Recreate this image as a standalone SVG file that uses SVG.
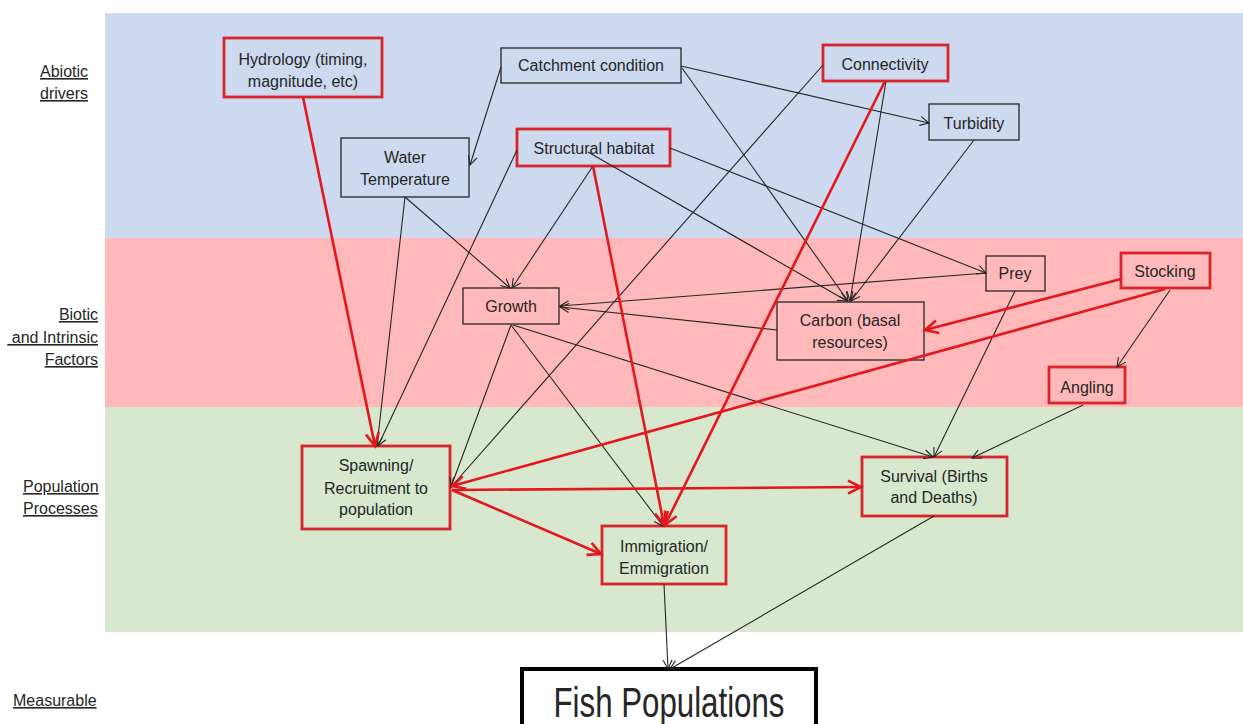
<svg xmlns="http://www.w3.org/2000/svg" width="1243" height="724" viewBox="0 0 1243 724">
<style>
text{font-family:"Liberation Sans",Arial,sans-serif;font-size:16px;fill:#262626}
.c{text-anchor:middle}
.lab{text-decoration:underline}
.bk{fill:none;stroke:#262626;stroke-width:1.3}
.rd{fill:none;stroke:#d8242a;stroke-width:2.8}
.lb{fill:none;stroke:#262626;stroke-width:1.1;marker-end:url(#ab)}
.lr{fill:none;stroke:#e3171c;stroke-width:2.6;marker-end:url(#ar)}
</style>
<defs>
<marker id="ab" markerUnits="userSpaceOnUse" viewBox="-12 -8 14 16" refX="0" refY="0" markerWidth="14" markerHeight="16" orient="auto" overflow="visible">
<path d="M-9,-4.5 L0,0 L-9,4.5" fill="none" stroke="#262626" stroke-width="1.1"/>
</marker>
<marker id="ar" markerUnits="userSpaceOnUse" viewBox="-16 -10 18 20" refX="0" refY="0" markerWidth="18" markerHeight="20" orient="auto" overflow="visible">
<path d="M-13,-6.5 L0,0 L-13,6.5" fill="none" stroke="#e3171c" stroke-width="2.6"/>
</marker>
</defs>
<rect width="1243" height="724" fill="#ffffff"/>
<g id="bands">
<rect x="105" y="13" width="1138" height="225" fill="#cdd9ef"/>
<rect x="105" y="238" width="1138" height="169" fill="#ffb9ba"/>
<rect x="105" y="407" width="1138" height="225" fill="#d8e8cf"/>
</g>
<g id="labels">
<text class="lab" x="40" y="77">Abiotic</text>
<text class="lab" x="40" y="99">drivers</text>
<text class="lab" x="98" y="320" text-anchor="end">Biotic</text>
<text class="lab" x="98" y="343" text-anchor="end" xml:space="preserve"> and Intrinsic</text>
<text class="lab" x="98" y="365" text-anchor="end">Factors</text>
<text class="lab" x="23" y="492">Population</text>
<text class="lab" x="23" y="514">Processes</text>
<text class="lab" x="13" y="706">Measurable</text>
</g>
<g id="hydrology"><rect class="rd" x="224" y="38" width="158" height="59"/><text class="c" x="303" y="65">Hydrology (timing,</text><text class="c" x="303" y="87">magnitude, etc)</text></g>
<g id="water-temperature"><rect class="bk" x="341" y="138" width="128" height="59"/><text class="c" x="405" y="163">Water</text><text class="c" x="405" y="185">Temperature</text></g>
<g id="catchment"><rect class="bk" x="501" y="48" width="180" height="35"/><text class="c" x="591" y="71">Catchment condition</text></g>
<g id="structural-habitat"><rect class="rd" x="517" y="129" width="153" height="37"/><text class="c" x="594" y="154">Structural habitat</text></g>
<g id="connectivity"><rect class="rd" x="823" y="45" width="125" height="36"/><text class="c" x="885" y="70">Connectivity</text></g>
<g id="turbidity"><rect class="bk" x="929" y="104" width="90" height="36"/><text class="c" x="974" y="129">Turbidity</text></g>
<g id="growth"><rect class="bk" x="463" y="288" width="96" height="36"/><text class="c" x="511" y="312">Growth</text></g>
<g id="carbon"><rect class="bk" x="777" y="302" width="147" height="58"/><text class="c" x="850" y="326">Carbon (basal</text><text class="c" x="850" y="348">resources)</text></g>
<g id="prey"><rect class="bk" x="986" y="256" width="59" height="35"/><text class="c" x="1015" y="279">Prey</text></g>
<g id="stocking"><rect class="rd" x="1121" y="253" width="89" height="35"/><text class="c" x="1165" y="277">Stocking</text></g>
<g id="angling"><rect class="rd" x="1049" y="367" width="76" height="36"/><text class="c" x="1087" y="393">Angling</text></g>
<g id="spawning"><rect class="rd" x="302" y="446" width="148" height="83"/><text class="c" x="376" y="471">Spawning/</text><text class="c" x="376" y="494">Recruitment to</text><text class="c" x="376" y="515">population</text></g>
<g id="immigration"><rect class="rd" x="602" y="526" width="124" height="58"/><text class="c" x="664" y="552">Immigration/</text><text class="c" x="664" y="574">Emmigration</text></g>
<g id="survival"><rect class="rd" x="862" y="457" width="145" height="59"/><text class="c" x="934" y="482">Survival (Births</text><text class="c" x="934" y="503">and Deaths)</text></g>
<g id="fish-populations"><rect x="522" y="669" width="294" height="70" fill="#ffffff" stroke="#000000" stroke-width="4"/><text class="c" x="669" y="717" style="font-size:42px" textLength="231" lengthAdjust="spacingAndGlyphs">Fish Populations</text></g>
<g id="connectors">
<path class="lb" d="M501,67 L470,165"/>
<path class="lb" d="M681,66 L929,123"/>
<path class="lb" d="M682,68 L848,301"/>
<path class="lb" d="M886,81 L850,301"/>
<path class="lb" d="M974,140 L851,301"/>
<path class="lb" d="M588,152 L847,301"/>
<path class="lb" d="M670,148 L986,273"/>
<path class="lb" d="M593,166 L512,288"/>
<path class="lb" d="M517,150 L378,446"/>
<path class="lb" d="M823,65 L451,487"/>
<path class="lb" d="M405,197 L510,288"/>
<path class="lb" d="M405,197 L377,446"/>
<path class="lb" d="M986,273 L560,306"/>
<path class="lb" d="M777,330 L560,307"/>
<path class="lb" d="M1015,291 L934,457"/>
<path class="lb" d="M1170,290 L1117,367"/>
<path class="lb" d="M1083,405 L972,458"/>
<path class="lb" d="M511,325 L451,487"/>
<path class="lb" d="M511,325 L663,526"/>
<path class="lb" d="M513,325 L933,457"/>
<path class="lb" d="M664,584 L668,669"/>
<path class="lb" d="M934,516 L670,669"/>
<path class="lr" d="M303,97 L375,446"/>
<path class="lr" d="M885,81 L665,525"/>
<path class="lr" d="M593,166 L664,525"/>
<path class="lr" d="M1121,279 L925,330"/>
<path class="lr" d="M1165,289 L452,486"/>
<path class="lr" d="M452,490 L861,487"/>
<path class="lr" d="M452,490 L601,554"/>
</g>
</svg>
